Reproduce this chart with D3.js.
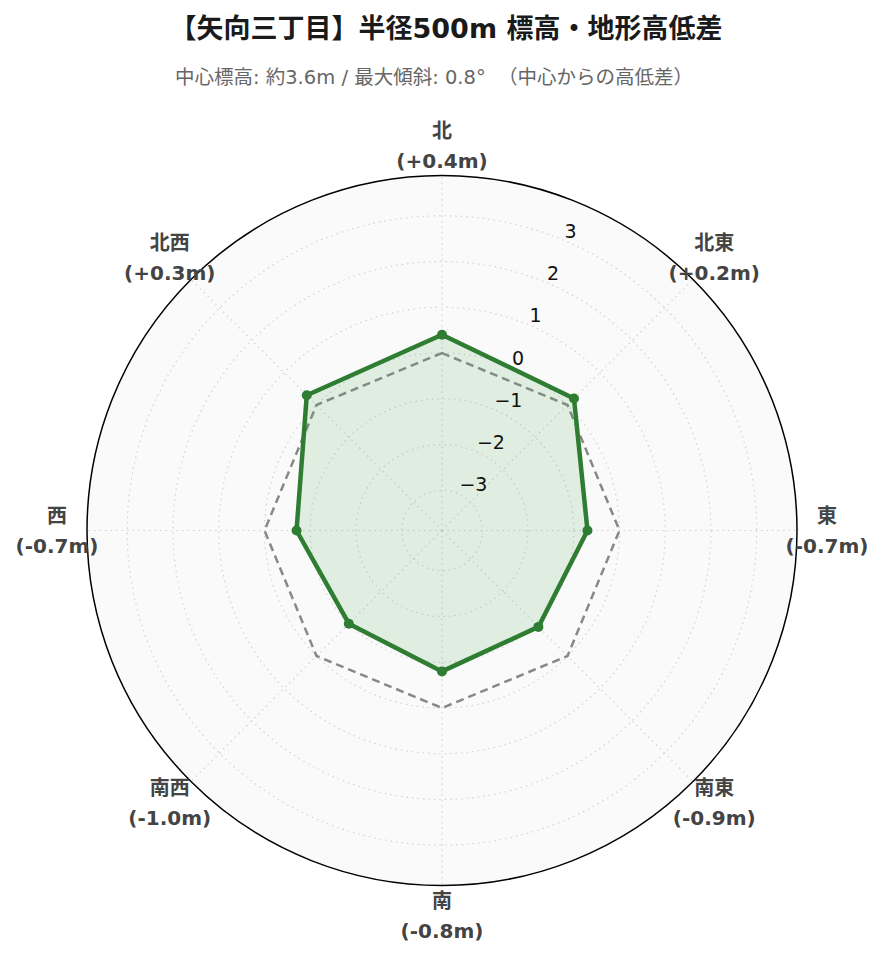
<!DOCTYPE html>
<html>
<head>
<meta charset="utf-8">
<script src="https://cdn.jsdelivr.net/npm/d3@7"></script>
<style>
  body { margin: 0; background: #fff; }
  svg text { font-family: "DejaVu Sans", "Noto Sans CJK JP", sans-serif; }
</style>
</head>
<body>
<svg id="chart" width="885" height="962"></svg>
<script>
// Radar chart of terrain height difference around the center point

const directions = ["北", "北東", "東", "南東", "南", "南西", "西", "北西"];
const diffs = [0.4, 0.2, -0.7, -0.9, -0.8, -1.0, -0.7, 0.3];
const baseline = [0, 0, 0, 0, 0, 0, 0, 0];
const radialTicks = [-3, -2, -1, 0, 1, 2, 3];
const radialRange = [-3.88, 3.88];

const titleText = "【矢向三丁目】半径500m 標高・地形高低差";
const subtitleText = "中心標高: 約3.6m / 最大傾斜: 0.8°  （中心からの高低差）";

const cx = 442, cy = 530.5, R = 355;
const svg = d3.select("#chart");

const r = d3.scaleLinear().domain(radialRange).range([0, R]);
const angle = i => i * Math.PI / 4;

// Title
svg.append("text")
  .attr("x", 446).attr("y", 28)
  .attr("text-anchor", "middle").attr("dominant-baseline", "central")
  .style("font-weight", "bold").style("font-size", "27px")
  .attr("fill", "#1a1a1a")
  .text(titleText);

svg.append("text")
  .attr("x", 434).attr("y", 77)
  .attr("text-anchor", "middle").attr("dominant-baseline", "central")
  .style("font-size", "19.5px")
  .style("white-space", "pre")
  .attr("fill", "#666")
  .text(subtitleText);

const g = svg.append("g").attr("transform", `translate(${cx},${cy})`);

// Polar background
g.append("circle").attr("r", R).attr("fill", "#fafafa");

// Grid circles
g.selectAll(".grid")
  .data(radialTicks)
  .enter()
  .append("circle")
  .attr("class", "grid")
  .attr("r", d => r(d))
  .attr("fill", "none")
  .attr("stroke", "#d2d2d2")
  .attr("stroke-width", 1.2)
  .attr("stroke-dasharray", "1.5,4");

// Spokes
g.selectAll(".spoke")
  .data(directions)
  .enter()
  .append("line")
  .attr("class", "spoke")
  .attr("x1", 0).attr("y1", 0)
  .attr("x2", (d, i) => R * Math.sin(angle(i)))
  .attr("y2", (d, i) => -R * Math.cos(angle(i)))
  .attr("stroke", "#d2d2d2")
  .attr("stroke-width", 1.2)
  .attr("stroke-dasharray", "1.5,4");

// Outer edge
g.append("circle").attr("r", R)
  .attr("fill", "none").attr("stroke", "#000").attr("stroke-width", 1.5);

const radar = d3.lineRadial()
  .angle((d, i) => angle(i))
  .radius(d => r(d))
  .curve(d3.curveLinearClosed);

// Baseline (0m)
g.append("path")
  .attr("d", radar(baseline))
  .attr("fill", "none")
  .attr("stroke", "#888")
  .attr("stroke-width", 2.5)
  .attr("stroke-dasharray", "8,5");

// Height difference
g.append("path")
  .attr("d", radar(diffs))
  .attr("fill", "rgba(76,175,80,0.15)")
  .attr("stroke", "#2e7d32")
  .attr("stroke-width", 4.5)
  .attr("stroke-linejoin", "round");

g.selectAll(".pt")
  .data(diffs)
  .enter()
  .append("circle")
  .attr("class", "pt")
  .attr("cx", (d, i) => r(d) * Math.sin(angle(i)))
  .attr("cy", (d, i) => -r(d) * Math.cos(angle(i)))
  .attr("r", 5)
  .attr("fill", "#2e7d32");

// Radial tick labels along 22.5deg
const axAng = Math.PI / 8;
g.selectAll(".tick")
  .data(radialTicks)
  .enter()
  .append("text")
  .attr("class", "tick")
  .attr("x", d => r(d) * Math.sin(axAng) + 2)
  .attr("y", d => -r(d) * Math.cos(axAng) - 9)
  .attr("dominant-baseline", "central")
  .style("font-size", "19px")
  .attr("fill", "#111")
  .text(d3.format("d"));

// Direction labels
const fmt = v => (v > 0 ? "+" : "") + v.toFixed(1);
const lab = g.selectAll(".dir")
  .data(directions)
  .enter()
  .append("text")
  .attr("class", "dir")
  .attr("text-anchor", "middle")
  .style("font-size", "20px")
  .style("font-weight", "bold")
  .attr("fill", "#444")
  .attr("transform", (d, i) => `translate(${385 * Math.sin(angle(i))},${-385 * Math.cos(angle(i))})`);

lab.append("tspan")
  .attr("x", 0).attr("y", -15)
  .attr("dominant-baseline", "central")
  .text(d => d);

lab.append("tspan")
  .attr("x", 0).attr("y", 15)
  .attr("dominant-baseline", "central")
  .text((d, i) => `(${fmt(diffs[i])}m)`);
</script>
</body>
</html>
